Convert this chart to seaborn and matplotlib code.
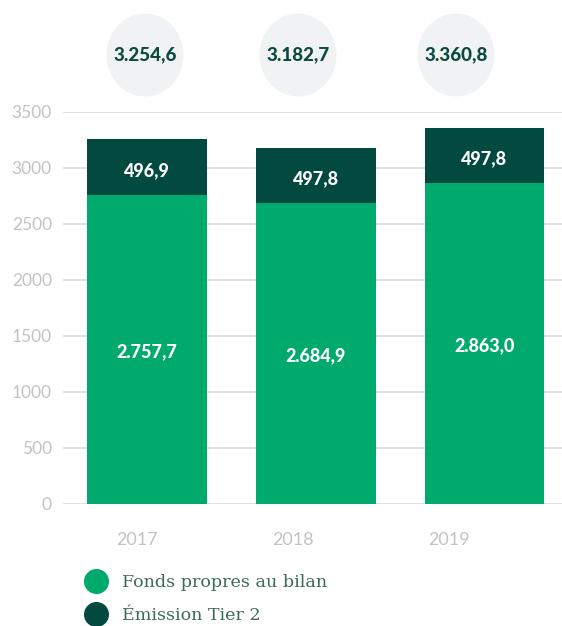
import matplotlib
matplotlib.use("Agg")
import matplotlib.pyplot as plt
import seaborn as sns
import pandas as pd
from matplotlib.patches import Ellipse
from matplotlib.lines import Line2D

years = ["2017", "2018", "2019"]
fonds_propres = [2757.7, 2684.9, 2863.0]
tier2 = [496.9, 497.8, 497.8]
totals = [3254.6, 3182.7, 3360.8]
legend_labels = ["Fonds propres au bilan", "Émission Tier 2"]
yticks = [0, 500, 1000, 1500, 2000, 2500, 3000, 3500]

GREEN = "#00aa6c"
DARK = "#024a3f"
GRID = "#dcdcdc"
TICK = "#c3c3c3"

def fmt(v):
    s = f"{v:,.1f}"
    return s.replace(",", "X").replace(".", ",").replace("X", ".")

sns.set_theme(style="white")
plt.rcParams["font.family"] = ["Lato", "DejaVu Sans"]

df = pd.DataFrame({"year": years, "base": fonds_propres, "tier2": tier2, "total": totals})

fig = plt.figure(figsize=(5.62, 6.26), dpi=100)
W, H = 562, 626
ax = fig.add_axes([63 / W, 122 / H, (W - 63) / W, 392 / H])

sns.barplot(data=df, x="year", y="total", color=DARK, saturation=1, width=0.71, ax=ax,
            zorder=3, linewidth=0, edgecolor="none")
sns.barplot(data=df, x="year", y="base", color=GREEN, saturation=1, width=0.71, ax=ax,
            zorder=3, linewidth=0, edgecolor="none")

ax.set_ylim(0, 3500)
ax.set_xlim(-0.5, 2.46)
ax.set_yticks(yticks)
ax.set_yticklabels([str(t) for t in yticks], color=TICK, fontsize=12.5)
for t in yticks:
    ax.axhline(t, color=GRID, lw=1.2, zorder=1)
ax.tick_params(axis="y", length=0, pad=8)
ax.tick_params(axis="x", length=0, pad=20)
ax.set_xticks([-0.06, 0.866, 1.79])
ax.set_xticklabels(years, color=TICK, fontsize=13)
ax.set_xlabel("")
ax.set_ylabel("")
for s in ax.spines.values():
    s.set_visible(False)

for i, (b, t2) in enumerate(zip(fonds_propres, tier2)):
    ax.text(i, b / 2 - 15, fmt(b), ha="center", va="center", color="white",
            fontsize=13, fontweight="black", zorder=5)
    ax.text(i, b + t2 / 2 - 30, fmt(t2), ha="center", va="center", color="white",
            fontsize=13, fontweight="black", zorder=5)

circle_x = [145, 298, 456]
for cx, tot in zip(circle_x, totals):
    e = Ellipse((cx / W, 1 - 55 / H), 77 / W, 83 / H, transform=fig.transFigure,
                facecolor="#f1f2f4", edgecolor="none")
    fig.patches.append(e)
    fig.text(cx / W, 1 - 55 / H, fmt(tot), ha="center", va="center", color="#0b4a3f",
             fontsize=13.5, fontweight="black")

handles = [Line2D([], [], marker="o", linestyle="", markersize=17, color=GREEN),
           Line2D([], [], marker="o", linestyle="", markersize=17, color=DARK)]
leg = fig.legend(handles, legend_labels, loc="upper left", bbox_to_anchor=(63 / W, 1 - 558 / H),
                 frameon=False, handletextpad=0.45, labelspacing=0.95,
                 prop={"family": "DejaVu Serif", "size": 12.6})
for t in leg.get_texts():
    t.set_color("#3d6a5e")

fig.savefig("out.png", dpi=100)
